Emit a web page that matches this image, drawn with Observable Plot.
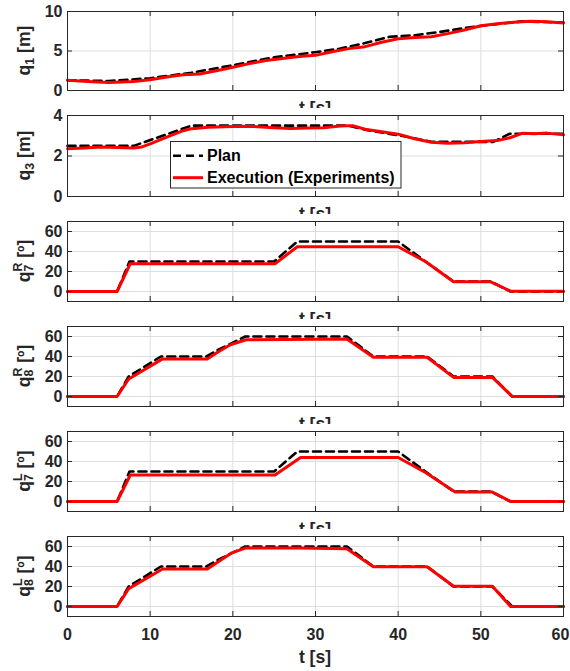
<!DOCTYPE html>
<html><head><meta charset="utf-8">
<script src="https://cdn.jsdelivr.net/npm/d3@7"></script>
<script src="https://cdn.jsdelivr.net/npm/@observablehq/plot@0.6"></script>
<style>
body{margin:0;background:#fff;}
#fig{position:relative;width:570px;height:671px;overflow:hidden;}
#fig svg{position:absolute;left:0;}
</style></head><body><div id="fig"></div>
<script>
const FONT = "'Liberation Sans', Arial, Helvetica, sans-serif";
const INK = "#262626";
const xTicks = [0, 10, 20, 30, 40, 50, 60];
const xLabel = "t [s]";
const legendLabels = ["Plan", "Execution (Experiments)"];

// q1 [m]
const q1PlanT = [0, 5, 10, 15, 20, 25, 30, 33, 36, 39, 42, 45, 48, 51, 55, 60];
const q1PlanV = [1.3, 1.2, 1.55, 2.25, 3.2, 4.2, 4.85, 5.3, 6.0, 6.8, 7.0, 7.4, 7.9, 8.3, 8.75, 8.6];
const q1ExecT = [0, 3, 5, 8, 10, 12, 14, 16, 18, 20, 22, 24, 26, 28, 30, 32, 34, 36, 38, 40, 42, 44, 46, 48, 50, 52, 54, 56, 58, 60];
const q1ExecV = [1.3, 1.1, 1.0, 1.15, 1.35, 1.7, 2.0, 2.1, 2.5, 2.95, 3.4, 3.8, 4.05, 4.3, 4.45, 4.9, 5.3, 5.55, 6.1, 6.55, 6.7, 6.8, 7.2, 7.65, 8.2, 8.45, 8.65, 8.78, 8.7, 8.55];
// q3 [m]
const q3PlanT = [0, 8, 15, 34, 36, 41, 44, 51.5, 53.5, 60];
const q3PlanV = [2.5, 2.5, 3.5, 3.5, 3.3, 2.95, 2.7, 2.7, 3.1, 3.1];
const q3ExecT = [0, 2, 4, 6, 8, 9, 10, 12, 14, 15, 17, 19, 21, 23, 25, 27, 29, 31, 33, 34.5, 36, 38, 40, 42, 44, 46, 48, 50, 52, 53.5, 55, 56.5, 58, 60];
const q3ExecV = [2.36, 2.4, 2.45, 2.42, 2.4, 2.45, 2.6, 2.93, 3.25, 3.35, 3.42, 3.45, 3.47, 3.45, 3.4, 3.36, 3.38, 3.4, 3.48, 3.5, 3.32, 3.2, 3.08, 2.85, 2.68, 2.63, 2.66, 2.72, 2.76, 2.9, 3.12, 3.1, 3.13, 3.05];
// q7R [deg]
const q7RPlanT = [0, 6, 7.5, 25, 27.8, 40, 43.3, 46.7, 51.2, 53.6, 60];
const q7RPlanV = [0, 0, 30, 30, 50, 50, 30, 10, 10, 0, 0];
const q7RExecT = [0, 6, 7.6, 25.1, 27.8, 40, 43.3, 46.7, 51.2, 53.6, 60];
const q7RExecV = [0, 0, 27.8, 27.8, 44.7, 44.7, 30, 9.7, 9.7, 0.3, 0.3];
// q8R [deg]
const q8RPlanT = [0, 6, 7.4, 11.3, 16.8, 18.3, 21.5, 33.8, 37, 43.5, 46.7, 51.4, 53.8, 60];
const q8RPlanV = [0, 0, 20, 40, 40, 47, 60, 60, 40, 40, 20, 20, 0, 0];
const q8RExecT = [0, 6, 7.4, 11.5, 16.9, 18.1, 19.7, 21.6, 33.8, 37, 43.5, 46.7, 51.4, 53.8, 60];
const q8RExecV = [0, 0, 17.5, 37.6, 37.6, 44, 51.7, 56.7, 57.5, 39.2, 39.2, 19.1, 19.1, 0, 0];
// q7L [deg]
const q7LPlanT = [0, 6, 7.5, 25, 27.8, 40, 43.3, 46.7, 51.2, 53.6, 60];
const q7LPlanV = [0, 0, 30, 30, 50, 50, 30, 10, 10, 0, 0];
const q7LExecT = [0, 6, 7.6, 25.1, 28.2, 40, 43.3, 46.9, 51.4, 53.6, 60];
const q7LExecV = [0, 0, 26.5, 26.5, 44, 44, 29, 9.4, 9.4, 0, 0];
// q8L [deg]
const q8LPlanT = [0, 6, 7.4, 11.3, 16.8, 18.3, 21.5, 33.8, 37, 43.5, 46.7, 51.4, 53.8, 60];
const q8LPlanV = [0, 0, 20, 40, 40, 47, 60, 60, 40, 40, 20, 20, 0, 0];
const q8LExecT = [0, 6, 7.4, 11.5, 16.9, 19.8, 21.5, 28, 33.8, 37, 43.5, 46.7, 51.4, 53.6, 60];
const q8LExecV = [0, 0, 17.9, 37.5, 37.5, 53.3, 58.4, 58.4, 57.7, 39.8, 39.8, 20.2, 20.2, 0, 0];

const yTicksPos = [0, 5, 10];
const yTicksQ3 = [0, 2, 4];
const yTicksDeg = [0, 20, 40, 60];

const zip = (T, V) => T.map((t, i) => ({t, v: V[i]}));

const panels = [
  {plan: zip(q1PlanT, q1PlanV), exec: zip(q1ExecT, q1ExecV), domain: [0, 10], ticks: yTicksPos, lab: {base: "q", sub: "1", unit: "[m]"}},
  {plan: zip(q3PlanT, q3PlanV), exec: zip(q3ExecT, q3ExecV), domain: [0, 4], ticks: yTicksQ3, lab: {base: "q", sub: "3", unit: "[m]"}},
  {plan: zip(q7RPlanT, q7RPlanV), exec: zip(q7RExecT, q7RExecV), domain: [-10, 70], ticks: yTicksDeg, lab: {base: "q", sup: "R", sub: "7", unit: "[º]"}},
  {plan: zip(q8RPlanT, q8RPlanV), exec: zip(q8RExecT, q8RExecV), domain: [-10, 70], ticks: yTicksDeg, lab: {base: "q", sup: "R", sub: "8", unit: "[º]"}},
  {plan: zip(q7LPlanT, q7LPlanV), exec: zip(q7LExecT, q7LExecV), domain: [-10, 70], ticks: yTicksDeg, lab: {base: "q", sup: "L", sub: "7", unit: "[º]"}},
  {plan: zip(q8LPlanT, q8LPlanV), exec: zip(q8LExecT, q8LExecV), domain: [-10, 70], ticks: yTicksDeg, lab: {base: "q", sup: "L", sub: "8", unit: "[º]"}}
];
const tops = [11, 115, 221, 326, 431, 536];
const bottoms = [90, 196, 301, 406, 511, 616];

const W = 570, ML = 67, MR = 7, MT = 7;
const plotW = W - ML - MR;
const fig = document.getElementById("fig");
const fmt = d => String(d);

function supWidth(ch, fs) {
  const w = {R: 0.722, L: 0.611};
  return (w[ch] || 0.6) * fs;
}

panels.forEach((p, i) => {
  const last = i === panels.length - 1;
  const plotH = bottoms[i] - tops[i];
  const svgTop = tops[i] - MT;
  const H = last ? 671 - svgTop : MT + plotH + 30;
  const MB = H - MT - plotH;
  const marks = [
    Plot.gridX({ticks: xTicks.slice(1, -1), stroke: "#dedede", strokeOpacity: 1}),
    Plot.gridY({ticks: p.ticks, stroke: "#dedede", strokeOpacity: 1}),
    Plot.line(p.plan, {x: "t", y: "v", stroke: "#000", strokeWidth: 2.6, strokeDasharray: "8,5"}),
    Plot.line(p.exec, {x: "t", y: "v", stroke: "#ff0000", strokeWidth: 3, strokeLinejoin: "round"}),
    Plot.frame({stroke: INK, strokeWidth: 1}),
    Plot.tickX(xTicks, {x: d => d, stroke: INK, insetTop: plotH - 5}),
    Plot.tickX(xTicks, {x: d => d, stroke: INK, insetBottom: plotH - 5}),
    Plot.tickY(p.ticks, {y: d => d, stroke: INK, insetRight: plotW - 5}),
    Plot.tickY(p.ticks, {y: d => d, stroke: INK, insetLeft: plotW - 5}),
    Plot.axisY({ticks: p.ticks, tickFormat: fmt, tickSize: 0, tickPadding: 5, label: null, fontSize: 16, fontWeight: "bold", fill: INK})
  ];
  if (last) {
    marks.push(Plot.axisX({ticks: xTicks.slice(0, -1), tickFormat: fmt, tickSize: 0, tickPadding: 12, label: null, fontSize: 16, fontWeight: "bold", fill: INK}));
    marks.push(Plot.axisX({ticks: xTicks.slice(-1), tickFormat: fmt, tickSize: 0, tickPadding: 12, label: null, fontSize: 16, fontWeight: "bold", fill: INK, dx: -3}));
  }
  const chart = Plot.plot({
    width: W, height: H,
    marginLeft: ML, marginRight: MR, marginTop: MT, marginBottom: MB,
    x: {domain: [0, 60], axis: last ? undefined : null},
    y: {domain: p.domain},
    style: {background: "white", fontFamily: FONT, fontSize: "16px", fontWeight: "bold", color: INK, overflow: "visible"},
    marks
  });
  chart.style.top = svgTop + "px";
  chart.style.position = "absolute";
  fig.appendChild(chart);
  const svg = d3.select(chart);

  // y label
  const cy = MT + plotH / 2;
  const t = svg.append("text")
    .attr("transform", `translate(30,${cy}) rotate(-90)`)
    .attr("text-anchor", "middle")
    .attr("font-family", FONT).attr("font-weight", "bold")
    .attr("font-size", 17.6).attr("fill", INK);
  t.append("tspan").text(p.lab.base);
  const sfs = 12.3;
  if (p.lab.sup) {
    const sw = supWidth(p.lab.sup, sfs);
    t.append("tspan").attr("font-size", sfs).attr("dy", -8.5).text(p.lab.sup);
    t.append("tspan").attr("font-size", sfs).attr("dx", -sw).attr("dy", 11.5).text(p.lab.sub);
    t.append("tspan").attr("dx", Math.max(sw - 0.556 * sfs, 0)).attr("dy", -3).text(" " + p.lab.unit);
  } else {
    t.append("tspan").attr("font-size", sfs).attr("dy", 4).text(p.lab.sub);
    t.append("tspan").attr("dy", -4).text(" " + p.lab.unit);
  }

  // x label (partly hidden under the next panel for the upper ones)
  svg.append("text")
    .attr("x", ML + plotW / 2)
    .attr("y", last ? MT + plotH + 47.4 : MT + plotH + 24)
    .attr("text-anchor", "middle")
    .attr("font-family", FONT).attr("font-weight", "bold")
    .attr("font-size", 17.6).attr("fill", INK)
    .text(xLabel);

  // legend in second panel
  if (i === 1) {
    const off = svgTop;
    const lg = svg.append("g").attr("text-anchor", "start");
    lg.append("rect").attr("x", 170.5).attr("y", 141.5 - off).attr("width", 230.5).attr("height", 46.5)
      .attr("fill", "white").attr("stroke", INK).attr("stroke-width", 1);
    const rows = [
      {y: 155.7 - off, stroke: "#000", dash: "8,5", w: 2.6},
      {y: 177.7 - off, stroke: "#ff0000", dash: null, w: 3}
    ];
    rows.forEach((r, k) => {
      const ln = lg.append("line").attr("x1", 173).attr("x2", 203).attr("y1", r.y).attr("y2", r.y)
        .attr("stroke", r.stroke).attr("stroke-width", r.w);
      if (r.dash) ln.attr("stroke-dasharray", r.dash);
      lg.append("text").attr("x", 207).attr("y", r.y + 5.7)
        .attr("text-anchor", "start")
        .attr("font-family", FONT).attr("font-weight", "bold").attr("font-size", 16).attr("fill", "#000")
        .text(legendLabels[k]);
    });
  }
});
</script>
</body></html>
